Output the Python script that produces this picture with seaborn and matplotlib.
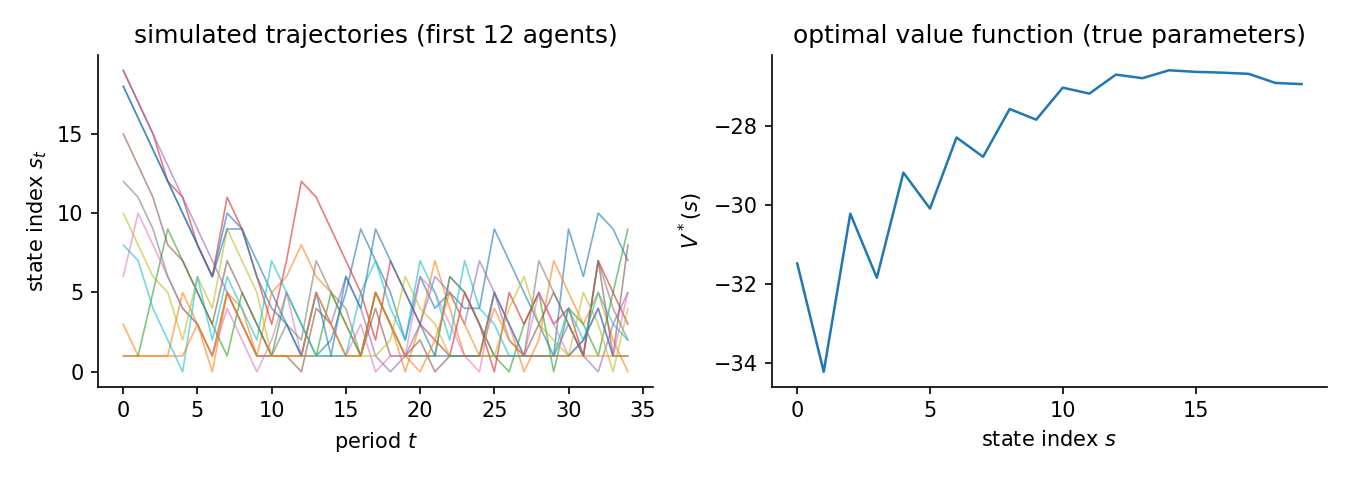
import numpy as np
import pandas as pd
import matplotlib
matplotlib.use("Agg")
import matplotlib.pyplot as plt
import seaborn as sns

# ---- data ----
periods = list(range(35))
agent_blue0 = [18, 16, 14, 12, 10, 8, 6, 10, 9, 7, 5, 3, 1, 1, 2, 5, 9, 7, 5, 2, 6, 4, 5, 4, 4, 9, 7, 5, 3, 1, 9, 6, 10, 9, 7]
agent_orange1 = [3, 1, 1, 1, 5, 3, 0, 5, 4, 1, 5, 6, 8, 6, 5, 3, 1, 5, 3, 0, 3, 7, 4, 1, 1, 5, 3, 0, 2, 7, 5, 3, 5, 2, 0]
agent_green2 = [1, 1, 5, 9, 7, 5, 3, 1, 5, 3, 1, 5, 3, 1, 5, 3, 1, 5, 3, 1, 1, 1, 6, 5, 3, 1, 0, 3, 5, 0, 4, 3, 1, 5, 9]
agent_red3 = [19, 17, 15, 12, 11, 8, 6, 11, 9, 6, 3, 7, 12, 11, 9, 7, 5, 2, 7, 5, 3, 2, 1, 5, 3, 0, 5, 3, 5, 3, 4, 1, 7, 5, 3]
agent_purple4 = [19, 17, 15, 13, 11, 9, 7, 5, 3, 1, 1, 1, 1, 5, 3, 6, 4, 1, 0, 1, 3, 6, 5, 3, 7, 5, 2, 1, 1, 1, 3, 1, 0, 3, 5]
agent_brown5 = [15, 13, 11, 8, 7, 5, 3, 7, 5, 3, 1, 1, 0, 4, 3, 1, 1, 4, 1, 1, 2, 0, 1, 1, 1, 1, 1, 1, 3, 5, 3, 1, 7, 1, 8]
agent_pink6 = [6, 10, 8, 6, 4, 3, 1, 4, 2, 0, 2, 5, 1, 1, 1, 1, 3, 0, 1, 1, 6, 5, 3, 1, 0, 5, 3, 1, 5, 3, 1, 2, 4, 1, 5]
agent_gray7 = [12, 11, 9, 6, 4, 3, 1, 5, 3, 1, 1, 3, 2, 7, 5, 4, 1, 5, 3, 1, 1, 1, 6, 5, 3, 1, 1, 1, 7, 5, 3, 1, 7, 4, 2]
agent_olive8 = [10, 8, 6, 5, 2, 6, 4, 9, 7, 5, 1, 1, 1, 1, 1, 1, 1, 1, 2, 6, 4, 3, 1, 1, 1, 1, 4, 6, 3, 2, 1, 5, 3, 0, 4]
agent_cyan9 = [8, 7, 4, 2, 0, 6, 2, 6, 4, 2, 7, 5, 3, 1, 1, 1, 5, 7, 4, 2, 7, 5, 2, 7, 4, 3, 1, 1, 1, 1, 4, 2, 5, 3, 2]
agent_blue10 = [18, 16, 14, 12, 10, 8, 6, 9, 9, 6, 4, 3, 1, 5, 1, 6, 4, 9, 7, 5, 3, 1, 1, 1, 1, 5, 3, 1, 1, 1, 1, 2, 4, 1, 1]
agent_orange11 = [1, 1, 1, 1, 1, 3, 1, 5, 3, 1, 1, 1, 1, 5, 3, 1, 1, 5, 3, 1, 0, 2, 5, 3, 1, 4, 2, 1, 1, 1, 1, 1, 1, 1, 1]

trajectories = [agent_blue0, agent_orange1, agent_green2, agent_red3, agent_purple4,
                agent_brown5, agent_pink6, agent_gray7, agent_olive8, agent_cyan9,
                agent_blue10, agent_orange11]

states = list(range(20))
value_fn = [-31.48, -34.23, -30.23, -31.85, -29.19, -30.10, -28.30, -28.79, -27.58, -27.85,
            -27.04, -27.19, -26.71, -26.80, -26.60, -26.64, -26.66, -26.69, -26.92, -26.95]

# ---- build frames ----
rows = []
for i, traj in enumerate(trajectories):
    for t, s in zip(periods, traj):
        rows.append({"agent": i, "t": t, "s": s})
df_traj = pd.DataFrame(rows)
df_v = pd.DataFrame({"s": states, "V": value_fn})

sns.set_style("ticks")
plt.rcParams.update({
    "text.color": "black",
    "axes.labelcolor": "black",
    "axes.edgecolor": "black",
    "xtick.color": "black",
    "ytick.color": "black",
    "axes.linewidth": 0.8,
})
tab10 = sns.color_palette("tab10", 10)
palette = [tab10[i % 10] for i in range(len(trajectories))]

fig, axes = plt.subplots(1, 2, figsize=(9, 3.2), dpi=150)
fig.subplots_adjust(left=0.0726, right=0.983, bottom=0.194, top=0.885, wspace=0.214)

ax = axes[0]
sns.lineplot(data=df_traj, x="t", y="s", hue="agent", palette=palette,
             legend=False, alpha=0.6, linewidth=0.8, ax=ax, estimator=None)
ax.set_title("simulated trajectories (first 12 agents)", fontsize=12)
ax.set_xlabel("period $t$", fontsize=10)
ax.set_ylabel("state index $s_t$", fontsize=10)
ax.set_xticks([0, 5, 10, 15, 20, 25, 30, 35])
ax.set_yticks([0, 5, 10, 15])
ax.tick_params(labelsize=10)

ax = axes[1]
sns.lineplot(data=df_v, x="s", y="V", color="#1f77b4", linewidth=1.2, ax=ax)
ax.set_title("optimal value function (true parameters)", fontsize=12)
ax.set_xlabel("state index $s$", fontsize=10)
ax.set_ylabel("$V^*(s)$", fontsize=10)
ax.set_xticks([0, 5, 10, 15])
ax.set_yticks([-34, -32, -30, -28])
ax.tick_params(labelsize=10)

sns.despine(fig=fig)
fig.savefig("out.png", dpi=150)
